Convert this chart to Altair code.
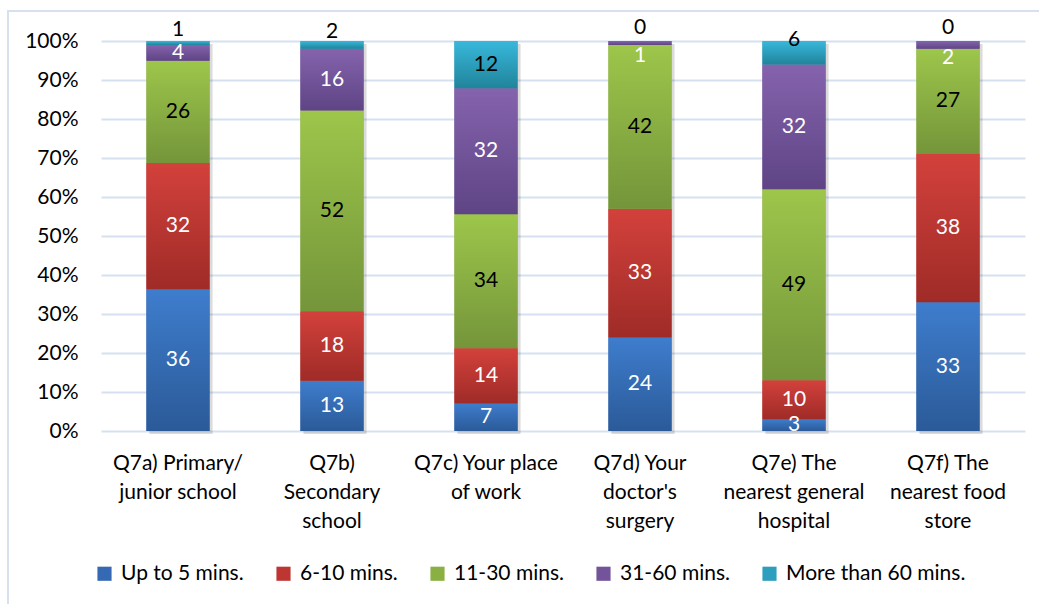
import altair as alt
import pandas as pd

# Survey categories (line breaks follow the axis label wrapping)
categories = [
    "Q7a) Primary/\njunior school",
    "Q7b)\nSecondary\nschool",
    "Q7c) Your place\nof work",
    "Q7d) Your\ndoctor's\nsurgery",
    "Q7e) The\nnearest general\nhospital",
    "Q7f) The\nnearest food\nstore",
]

series = ["Up to 5 mins.", "6-10 mins.", "11-30 mins.", "31-60 mins.", "More than 60 mins."]

# Percent of respondents per travel-time band, one list per band
up_to_5 = [36, 13, 7, 24, 3, 33]
mins_6_10 = [32, 18, 14, 33, 10, 38]
mins_11_30 = [26, 52, 34, 42, 49, 27]
mins_31_60 = [4, 16, 32, 1, 32, 2]
over_60 = [1, 2, 12, 0, 6, 0]

band_values = [up_to_5, mins_6_10, mins_11_30, mins_31_60, over_60]

# Gradient colours per band (top, bottom) and a flat colour for the legend
grad_top = ["#3E7DCD", "#D3413C", "#9DC64B", "#8563AD", "#38B8DB"]
grad_bottom = ["#2B5A98", "#9F2B27", "#74953A", "#5E4485", "#20849B"]
flat = ["#3569B4", "#BD3632", "#8AAF42", "#73539A", "#2C9EBE"]
text_colors = ["white", "white", "black", "white", "black"]

rows = []
for si, (name, vals) in enumerate(zip(series, band_values)):
    for cat, v in zip(categories, vals):
        rows.append({"cat": cat, "series": name, "order": si, "value": v,
                     "tcolor": text_colors[si]})
df = pd.DataFrame(rows)

FONT = "Lato"
FS = 21

x_enc = alt.X(
    "cat:N",
    sort=categories,
    scale=alt.Scale(paddingInner=0.59, paddingOuter=0.295),
    axis=alt.Axis(
        title=None,
        labelExpr="split(datum.value, '\\n')",
        labelAngle=0,
        labelPadding=21,
        labelLineHeight=29,
        labelFontSize=FS,
        labelFont=FONT,
        labelColor="#000000",
        labelLimit=300,
        domain=False,
        ticks=False,
        grid=False,
    ),
)

y_scale = alt.Scale(domain=[0, 1], nice=False)
y_axis = alt.Axis(
    title=None,
    values=[i / 10 for i in range(11)],
    format=".0%",
    labelFontSize=FS,
    labelFont=FONT,
    labelColor="#000000",
    labelPadding=23,
    labelOverlap=False,
    ticks=False,
    domain=False,
    grid=True,
    gridColor="#D5E1F1",
    gridWidth=2,
)


def y_enc(field):
    return alt.Y(field, scale=y_scale, axis=y_axis)


base = (
    alt.Chart(df)
    .transform_joinaggregate(total="sum(value)", groupby=["cat"])
    .transform_calculate(share="datum.value / datum.total")
    .transform_stack(
        stack="share",
        groupby=["cat"],
        as_=["y0", "y1"],
        sort=[alt.SortField("order", order="ascending")],
    )
    .transform_calculate(
        mid="(datum.y0 + datum.y1) / 2",
        nudge="(datum.order == 4 && datum.share < 0.08) ? 'up' : "
              "((datum.order == 3 && datum.share < 0.03) ? 'down' : 'none')",
    )
)

# Soft drop shadow behind each full bar
shadow = (
    alt.Chart(pd.DataFrame({"cat": categories, "top": [1.0] * len(categories)}))
    .mark_bar(color="#000000", opacity=0.14, xOffset=3, yOffset=3, y2Offset=3)
    .encode(x=x_enc, y=y_enc("top:Q"), y2=alt.value(390))
)

# Flat bars that carry the legend
flat_bars = base.mark_bar().encode(
    x=x_enc,
    y=y_enc("y0:Q"),
    y2="y1:Q",
    color=alt.Color(
        "series:N",
        sort=series,
        scale=alt.Scale(domain=series, range=flat),
        legend=alt.Legend(
            title=None,
            orient="none",
            direction="horizontal",
            legendX=-7,
            legendY=522,
            symbolType="square",
            symbolSize=200,
            symbolStrokeWidth=0,
            labelFont=FONT,
            labelFontSize=FS,
            labelColor="#000000",
            labelLimit=400,
            labelOffset=6,
            columnPadding=29,
        ),
    ),
)

# Gradient-filled segments, one layer per band
grad_layers = []
for si, name in enumerate(series):
    grad = alt.Gradient(
        gradient="linear",
        stops=[alt.GradientStop(color=grad_top[si], offset=0),
               alt.GradientStop(color=grad_bottom[si], offset=1)],
        x1=0, x2=0, y1=0, y2=1,
    )
    grad_layers.append(
        base.transform_filter(alt.datum.series == name)
        .mark_bar(fill=grad)
        .encode(x=x_enc, y=y_enc("y0:Q"), y2="y1:Q")
    )


# Value labels: centred, with small top segments nudged clear of each other
def label_layer(kind, dy):
    return (
        base.transform_filter(alt.datum.nudge == kind)
        .mark_text(font=FONT, fontSize=FS, dy=dy, baseline="middle")
        .encode(
            x=x_enc,
            y=y_enc("mid:Q"),
            text=alt.Text("value:Q"),
            color=alt.Color("tcolor:N", scale=None),
        )
    )


labels = [label_layer("none", 0), label_layer("up", -13), label_layer("down", 13)]

# Chart frame
frame = (
    alt.Chart(pd.DataFrame({"f": [0]}))
    .mark_rect(fill=None, stroke="#D7E1EE", strokeWidth=2)
    .encode(x=alt.value(-93), x2=alt.value(1040), y=alt.value(-30), y2=alt.value(600))
)

chart = (
    alt.layer(frame, shadow, flat_bars, *grad_layers, *labels)
    .properties(
        width=924,
        height=390,
        autosize=alt.AutoSizeParams(type="none"),
        padding={"left": 101, "top": 41, "right": 14, "bottom": 173},
        background="white",
    )
    .configure_view(stroke=None)
)

chart.save("out.html", embed_options={"renderer": "svg", "actions": False})
